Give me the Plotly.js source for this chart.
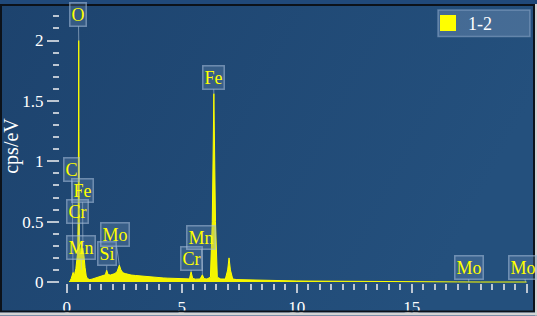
<!DOCTYPE html>
<html>
<head>
<meta charset="utf-8">
<script src="https://cdn.plot.ly/plotly-3.0.1.min.js"></script>
<style>
  html, body { margin: 0; padding: 0; background: #d4d4d4; }
  #chart { width: 537px; height: 316px; }
</style>
</head>
<body>
<div id="chart"></div>
<script>
// ---- data ----
const energyKeV = [
  0.10, 0.15, 0.20, 0.25, 0.28, 0.31, 0.35, 0.40, 0.45, 0.48, 0.505, 0.515, 0.525, 0.535, 0.545, 0.56,
  0.60, 0.65, 0.70, 0.75, 0.80, 0.85, 0.90, 0.95,
  1.00, 1.10, 1.20, 1.30, 1.40, 1.50, 1.60, 1.68, 1.74, 1.80, 1.90, 2.00, 2.10, 2.20, 2.29, 2.36,
  2.45, 2.55, 2.65, 2.80, 3.00, 3.20, 3.40, 3.60, 3.80, 4.00, 4.20, 4.40, 4.60, 4.80, 5.00, 5.20,
  5.34, 5.41, 5.48, 5.60, 5.80, 5.90, 5.97, 6.10, 6.25, 6.33, 6.40, 6.47, 6.55, 6.70, 6.90, 7.00,
  7.06, 7.12, 7.22, 7.40, 7.70, 8.00, 8.50, 9.00, 9.50, 10.0, 10.5, 11.0, 12.0, 13.0, 14.0, 15.0,
  16.0, 17.0, 18.0, 20.0
];
const cpsPerEV = [
  0.000, 0.010, 0.030, 0.060, 0.080, 0.060, 0.070, 0.110, 0.180, 0.250, 0.600, 1.300, 2.000, 1.250, 0.550, 0.300,
  0.260, 0.240, 0.280, 0.220, 0.120, 0.050, 0.030, 0.022,
  0.020, 0.024, 0.030, 0.036, 0.040, 0.048, 0.054, 0.060, 0.098, 0.062, 0.058, 0.064, 0.070, 0.090, 0.140, 0.100,
  0.076, 0.070, 0.064, 0.058, 0.054, 0.050, 0.047, 0.044, 0.040, 0.037, 0.034, 0.032, 0.030, 0.028, 0.026, 0.025,
  0.026, 0.085, 0.030, 0.024, 0.025, 0.060, 0.028, 0.025, 0.040, 0.500, 1.560, 0.500, 0.040, 0.025, 0.025, 0.100,
  0.200, 0.100, 0.025, 0.020, 0.018, 0.016, 0.014, 0.012, 0.010, 0.009, 0.008, 0.007, 0.005, 0.004, 0.003, 0.002,
  0.001, 0.001, 0.000, 0.000
];

// peak labels: element, peak position (keV), peak height, label box centre (keV, cps/eV)
const peakNames  = ['O', 'C', 'Fe', 'Cr', 'Mn', 'Si', 'Mo', 'Cr', 'Mn', 'Fe', 'Mo', 'Mo'];
const peakKeV    = [0.525, 0.277, 0.705, 0.573, 0.637, 1.74, 2.29, 5.41, 5.90, 6.40, 17.48, 19.95];
const peakCps    = [2.00, 0.08, 0.30, 0.30, 0.10, 0.10, 0.14, 0.085, 0.06, 1.56, 0.0, 0.0];
const labelKeV   = [0.51, 0.23, 0.69, 0.49, 0.62, 1.75, 2.10, 5.43, 5.86, 6.38, 17.49, 19.85];
const labelCps   = [2.215, 0.935, 0.759, 0.588, 0.286, 0.233, 0.39, 0.196, 0.367, 1.694, 0.122, 0.122];

const seriesName = '1-2';
const xTickVals = [0, 5, 10, 15, 20];
const xTickText = ['0', '5', '10', '15', 'keV'];
const yTickVals = [0, 0.5, 1, 1.5, 2];
const yTickText = ['0', '0.5', '1', '1.5', '2'];

// ---- chart ----
const serif = "'Liberation Serif', 'Times New Roman', Times, serif";
const tickCol = '#bcc6d2';

const traces = [
  {
    x: energyKeV, y: cpsPerEV, type: 'scatter', mode: 'lines',
    line: { color: '#ffff00', width: 1 }, fill: 'tozeroy', fillcolor: '#f4f400',
    showlegend: false, hoverinfo: 'x+y'
  },
  {
    x: [null], y: [null], type: 'scatter', mode: 'markers', name: seriesName,
    marker: { symbol: 'square', size: 16, color: '#ffff00', line: { width: 0 } }
  }
];

const annotations = peakNames.map((n, i) => ({
  text: n, x: peakKeV[i], y: peakCps[i], xref: 'x', yref: 'y',
  ax: labelKeV[i], ay: labelCps[i], axref: 'x', ayref: 'y',
  showarrow: true, arrowhead: 0, arrowwidth: 1, arrowcolor: 'rgba(175,195,215,0.6)',
  bgcolor: 'rgba(120,150,185,0.28)', bordercolor: 'rgba(170,192,218,0.55)',
  borderwidth: 1.5, borderpad: 1,
  font: { family: serif, size: 18, color: '#ffff00' }
}));

const gradSvg = '<svg xmlns="http://www.w3.org/2000/svg" width="100" height="100" preserveAspectRatio="none">' +
  '<defs><linearGradient id="g" x1="0" y1="0" x2="1" y2="0.3">' +
  '<stop offset="0" stop-color="#1d436e"/><stop offset="1" stop-color="#24507d"/>' +
  '</linearGradient></defs><rect width="100" height="100" fill="url(#g)"/></svg>';

const W = 537, H = 316, mL = 60, mR = 6, mT = 5, mB = 33;
const pw = W - mL - mR, ph = H - mT - mB;
const px2x = p => (p - mL) / pw;
const py2y = p => (H - mB - p) / ph;

const layout = {
  width: W, height: H,
  margin: { l: mL, r: mR, t: mT, b: mB, pad: 0 },
  paper_bgcolor: '#20497a', plot_bgcolor: 'rgba(0,0,0,0)',
  font: { family: serif, color: '#ffffff', size: 17 },
  images: [{
    source: 'data:image/svg+xml;charset=utf-8,' + encodeURIComponent(gradSvg),
    xref: 'paper', yref: 'paper', x: px2x(0), y: py2y(0),
    sizex: 535 / pw, sizey: 313 / ph, sizing: 'stretch', xanchor: 'left', yanchor: 'top', layer: 'below'
  }],
  xaxis: {
    range: [-0.29, 20.19], showgrid: false, zeroline: false, showline: false,
    tickmode: 'array', tickvals: xTickVals, ticktext: xTickText,
    ticks: 'outside', ticklen: 9, tickwidth: 2, tickcolor: tickCol,
    tickfont: { family: serif, size: 17, color: '#ffffff' },
    minor: { dtick: 0.5, tick0: 0, ticks: 'outside', ticklen: 6, tickwidth: 2, tickcolor: tickCol, showgrid: false }
  },
  yaxis: {
    range: [-0.008, 2.261], showgrid: false, zeroline: false, showline: false,
    tickmode: 'array', tickvals: yTickVals, ticktext: yTickText,
    ticks: 'outside', ticklen: 12, tickwidth: 2, tickcolor: tickCol,
    tickfont: { family: serif, size: 17, color: '#ffffff' },
    minor: { dtick: 0.1, tick0: 0, ticks: 'outside', ticklen: 6, tickwidth: 2, tickcolor: tickCol, showgrid: false },
    title: { text: 'cps/eV', font: { family: serif, size: 20, color: '#ffffff' }, standoff: 1 }
  },
  legend: {
    x: px2x(428), xanchor: 'left', y: py2y(19.5), yanchor: 'middle',
    bgcolor: 'rgba(0,0,0,0)', borderwidth: 0,
    font: { family: serif, size: 18, color: '#ffffff' }
  },
  shapes: [
    { type: 'rect', xref: 'paper', yref: 'paper', x0: px2x(438), x1: px2x(530), y0: py2y(33), y1: py2y(6),
      fillcolor: 'rgba(150,176,208,0.3)', line: { color: 'rgba(160,185,215,0.45)', width: 1.5 }, layer: 'below' },
    { type: 'rect', xref: 'paper', yref: 'paper', x0: px2x(1), x1: px2x(534), y0: py2y(312), y1: py2y(1),
      line: { color: '#0c121a', width: 2 }, layer: 'above' },
    { type: 'rect', xref: 'paper', yref: 'paper', x0: px2x(0), x1: px2x(537), y0: py2y(316), y1: py2y(313),
      fillcolor: '#d4d4d4', line: { width: 0 }, layer: 'above' },
    { type: 'rect', xref: 'paper', yref: 'paper', x0: px2x(535), x1: px2x(537), y0: py2y(316), y1: py2y(0),
      fillcolor: '#d4d4d4', line: { width: 0 }, layer: 'above' }
  ],
  annotations: annotations,
  showlegend: true
};

Plotly.newPlot('chart', traces, layout, { displayModeBar: false, staticPlot: true });
</script>
</body>
</html>
